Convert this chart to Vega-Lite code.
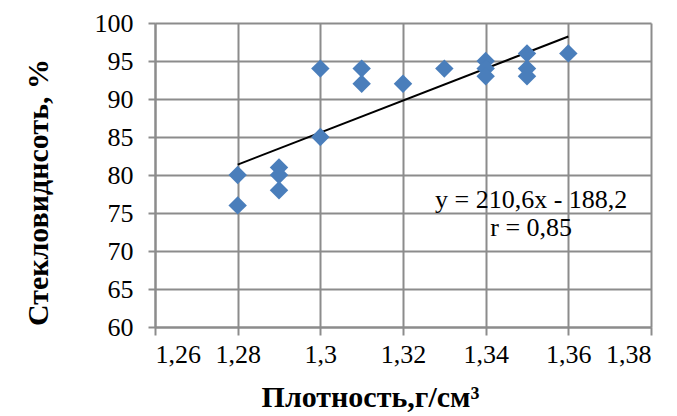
{
  "$schema": "https://vega.github.io/schema/vega-lite/v6.json",
  "autosize": {"type": "none"},
  "width": 496,
  "height": 304,
  "padding": {"left": 155, "top": 23, "right": 26, "bottom": 89},
  "background": "white",
  "config": {
    "view": {"stroke": null},
    "font": "Liberation Serif, Times New Roman, serif",
    "axis": {
      "gridColor": "#8c8c8c",
      "gridWidth": 2,
      "gridOpacity": 1,
      "domainColor": "#8c8c8c",
      "domainWidth": 2,
      "tickColor": "#8c8c8c",
      "tickWidth": 2,
      "labelFont": "Liberation Serif, Times New Roman, serif",
      "labelFontSize": 26,
      "labelColor": "black",
      "titleFont": "Liberation Serif, Times New Roman, serif",
      "titleFontSize": 30,
      "titleFontWeight": "bold",
      "titleColor": "black"
    }
  },
  "datasets": {
    "points": [
      {"x": 1.28, "y": 80},
      {"x": 1.28, "y": 76},
      {"x": 1.29, "y": 81},
      {"x": 1.29, "y": 80},
      {"x": 1.29, "y": 78},
      {"x": 1.30, "y": 94},
      {"x": 1.30, "y": 85},
      {"x": 1.31, "y": 94},
      {"x": 1.31, "y": 92},
      {"x": 1.32, "y": 92},
      {"x": 1.33, "y": 94},
      {"x": 1.34, "y": 95},
      {"x": 1.34, "y": 94},
      {"x": 1.34, "y": 93},
      {"x": 1.35, "y": 96},
      {"x": 1.35, "y": 94},
      {"x": 1.35, "y": 93},
      {"x": 1.36, "y": 96}
    ],
    "trend": [
      {"x": 1.28, "y": 81.37},
      {"x": 1.36, "y": 98.22}
    ],
    "note": [
      {"x": 1.351, "y": 76.7, "label": "y = 210,6x - 188,2\nr = 0,85"}
    ]
  },
  "encoding": {
    "x": {
      "field": "x", "type": "quantitative",
      "scale": {"domain": [1.26, 1.38], "nice": false, "zero": false},
      "axis": {
        "values": [1.26, 1.28, 1.30, 1.32, 1.34, 1.36, 1.38],
        "format": "~g",
        "labelExpr": "replace(datum.label, '.', ',')",
        "tickSize": 8,
        "labelPadding": 6,
        "title": "Плотность,г/см³",
        "titlePadding": 15,
        "titleX": 215
      }
    },
    "y": {
      "field": "y", "type": "quantitative",
      "scale": {"domain": [60, 100], "nice": false, "zero": false},
      "axis": {
        "values": [60, 65, 70, 75, 80, 85, 90, 95, 100],
        "tickSize": 7,
        "labelPadding": 15,
        "title": "Стекловиднсоть, %",
        "titlePadding": 41,
        "titleY": 169
      }
    }
  },
  "layer": [
    {
      "data": {"name": "trend"},
      "mark": {"type": "line", "color": "black", "strokeWidth": 2}
    },
    {
      "data": {"name": "points"},
      "mark": {"type": "point", "shape": "diamond", "filled": true, "size": 340, "color": "#4a7ebb", "opacity": 1}
    },
    {
      "data": {"name": "note"},
      "mark": {"type": "text", "fontSize": 26, "lineBreak": "\n", "lineHeight": 28, "align": "center", "baseline": "middle", "color": "black", "font": "Liberation Serif, Times New Roman, serif"},
      "encoding": {"text": {"field": "label"}}
    }
  ]
}
